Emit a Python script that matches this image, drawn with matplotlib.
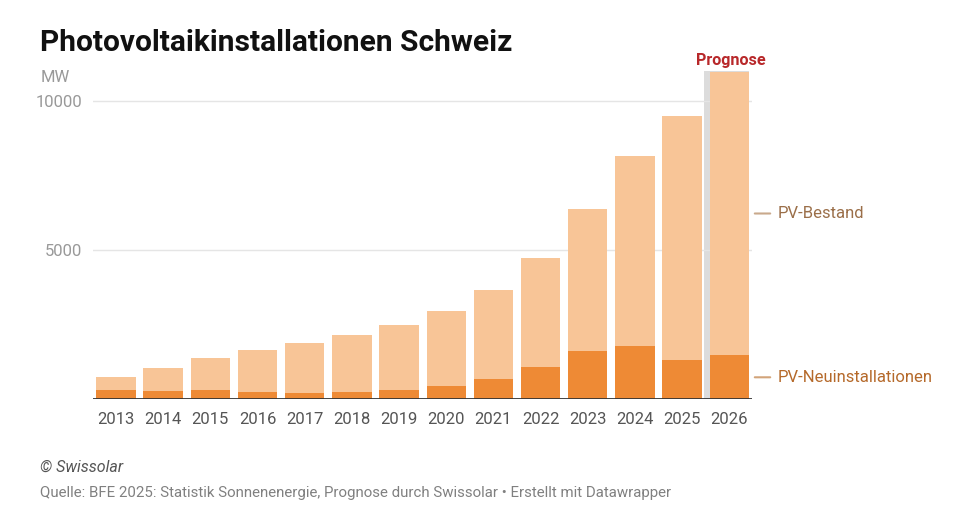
import matplotlib
matplotlib.use("Agg")
import matplotlib.pyplot as plt

years = [2013, 2014, 2015, 2016, 2017, 2018, 2019, 2020, 2021, 2022, 2023, 2024, 2025, 2026]
bestand = [740, 1050, 1372, 1654, 1876, 2148, 2483, 2973, 3658, 4732, 6376, 8164, 9507, 10993]
neu = [312, 290, 312, 255, 222, 245, 312, 456, 671, 1074, 1631, 1789, 1319, 1477]
yticks = [5000, 10000]

title = "Photovoltaikinstallationen Schweiz"
c_light = "#f8c597"
c_dark = "#ee8a35"
bar_w = 0.835

plt.rcParams['font.family'] = ['Roboto', 'DejaVu Sans']

fig = plt.figure(figsize=(9.6, 5.22), dpi=100)
ax = fig.add_axes([93.3/960, 1-399.3/522, (752-93.3)/960, (399.3-71.5)/522])

# Prognose highlight
ax.axvspan(2025.46, years[-1] + bar_w/2, color="#dcdcdc", lw=0, zorder=0)

for y in yticks:
    ax.axhline(y, color="#e5e5e5", lw=1, zorder=0.5)

ax.bar(years, bestand, width=bar_w, color=c_light, zorder=2)
ax.bar(years, neu, width=bar_w, color=c_dark, zorder=3)
ax.axhline(0, color="#333333", lw=2, zorder=4)

ax.set_xlim(2012.52, 2026.48)
ax.set_ylim(0, 11000)
for s in ax.spines.values():
    s.set_visible(False)
ax.set_xticks(years)
ax.set_xticklabels([str(y) for y in years], fontsize=12, color="#555555")
ax.tick_params(axis='x', length=0, pad=9)
ax.set_yticks(yticks)
ax.set_yticklabels([str(y) for y in yticks], fontsize=12, color="#999999")
ax.tick_params(axis='y', length=0, pad=8)

# MW unit label
fig.text(41/960, 1-78/522, "MW", fontsize=12, color="#999999", ha='left', va='center')

# Right-side labels
last = len(years) - 1
y_best = (neu[last] + bestand[last]) / 2
y_neu = neu[last] / 2
for yv, txt, col, lc in [(y_best, "PV-Bestand", "#9b6f49", "#c9a98c"),
                         (y_neu, "PV-Neuinstallationen", "#b5692a", "#d2a47a")]:
    ax.annotate("", xy=(1.0, yv), xycoords=('axes fraction', 'data'),
                xytext=(1.0 + 21/658.7, yv), textcoords=('axes fraction', 'data'),
                arrowprops=dict(arrowstyle='-', color=lc, lw=1.5), annotation_clip=False)
    ax.text(1.0 + 26/658.7, yv, txt, transform=ax.get_yaxis_transform(),
            fontsize=12, color=col, ha='left', va='center', clip_on=False)

ax.annotate("Prognose", xy=(years[last], 11000), xytext=(1, 4), textcoords='offset pixels',
            ha='center', va='bottom', fontsize=11.6, fontweight='bold', color="#b8282a",
            annotation_clip=False)

fig.text(40/960, 1-51/522, title, fontsize=21.5, fontweight='bold', color="#111111",
         ha='left', va='baseline')
fig.text(40/960, 1-467/522, "© Swissolar", fontsize=11.5, style='italic', color="#555555",
         ha='left', va='center')
fig.text(40/960, 1-493/522,
         "Quelle: BFE 2025: Statistik Sonnenenergie, Prognose durch Swissolar • Erstellt mit Datawrapper",
         fontsize=10.8, color="#808080", ha='left', va='center')

fig.savefig("out.png", dpi=100, facecolor="white")
